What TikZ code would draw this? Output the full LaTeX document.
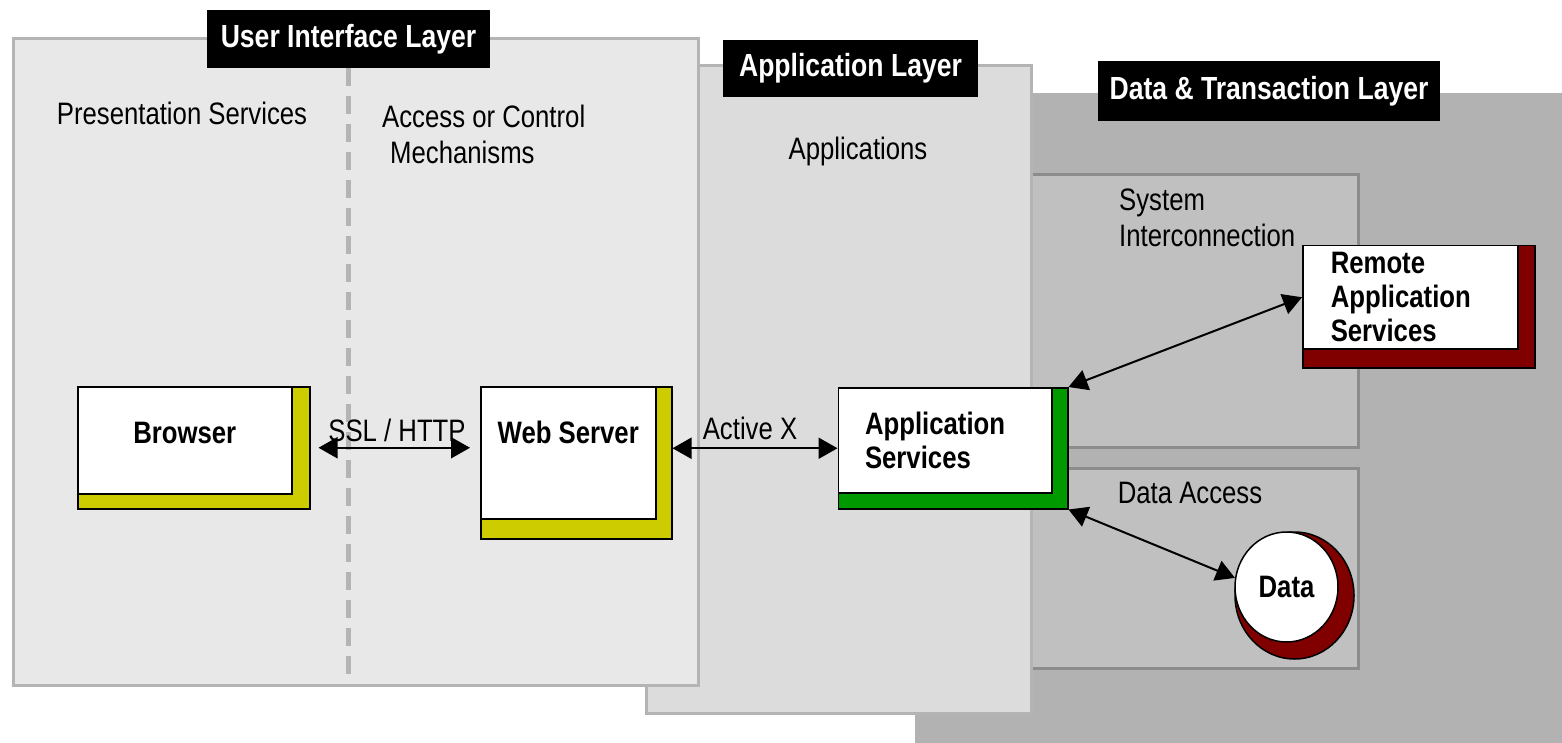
\documentclass[tikz,border=0pt]{standalone}
\usepackage{fontspec}
\setmainfont[FakeStretch=0.83]{Liberation Sans}
\usepackage{tikz}
\usetikzlibrary{shapes.geometric, arrows.meta, positioning, calc}
\definecolor{uigray}{HTML}{E8E8E8}
\definecolor{appgray}{HTML}{DCDCDC}
\definecolor{datagray}{HTML}{B2B2B2}
\definecolor{subgray}{HTML}{C0C0C0}
\definecolor{edgegray}{HTML}{B4B4B4}
\definecolor{darkedge}{HTML}{8C8C8C}
\definecolor{webyellow}{HTML}{CCCC00}
\definecolor{appgreen}{HTML}{009900}
\definecolor{remotered}{HTML}{800000}

\begin{document}
\begin{tikzpicture}[
    x=1pt, y=-1pt,
    panel/.style={rectangle, draw=edgegray, line width=3pt, anchor=north west, inner sep=0pt},
    subpanel/.style={rectangle, draw=darkedge, fill=subgray, line width=3pt, anchor=north west, inner sep=0pt},
    layertag/.style={rectangle, fill=black, text=white, inner sep=0pt, font=\fontsize{32pt}{36pt}\selectfont\bfseries},
    caption/.style={inner sep=0pt, align=left, font=\fontsize{31pt}{36pt}\selectfont},
    backbox/.style={rectangle, draw=black, line width=1.5pt, anchor=north west, inner sep=0pt},
    frontbox/.style={rectangle, draw=black, fill=white, line width=1.5pt, anchor=north west, inner sep=0pt, font=\fontsize{31pt}{34pt}\selectfont\bfseries},
    link/.style={<->, >={Triangle[length=19pt, width=21pt]}, line width=2pt}
]
\useasboundingbox (0,0) rectangle (1562,743);

% Layer panels
\node[panel, fill=datagray, draw=none, minimum width=649pt, minimum height=651pt] (datalayer) at (913,92) {};
\node[subpanel, minimum width=327pt, minimum height=273pt] (sysbox) at (1030,173) {};
\node[subpanel, minimum width=327pt, minimum height=200pt] (accessbox) at (1030,467) {};
\node[panel, fill=appgray, minimum width=385pt, minimum height=648pt] (applayer) at (645,64) {};
\node[panel, fill=uigray, minimum width=685pt, minimum height=647pt] (uilayer) at (12,37) {};

% Layer titles
\node[layertag, minimum width=283pt, minimum height=58pt] (uitag) at (348.5,39) {User Interface Layer};
\node[layertag, minimum width=255pt, minimum height=57pt] (apptag) at (850.5,68.5) {Application Layer};
\node[layertag, minimum width=342pt, minimum height=60pt] (datatag) at (1269,91) {Data \& Transaction Layer};

\draw[edgegray, line width=4.5pt, dash pattern=on 18pt off 10pt] (uitag.south) -- (uitag.south |- uilayer.south);

% Captions
\node[caption] (presentation) at (182,113) {Presentation Services};
\node[caption, anchor=west] (access) at (382,134) {Access or Control\\\hspace*{8pt}Mechanisms};
\node[caption] (applications) at (858,151) {Applications};
\node[caption, anchor=west] (interconnect) at (1119,218) {System\\Interconnection};
\node[caption] (dataaccess) at (1190,493) {Data Access};

% Components
\node[backbox, fill=webyellow, minimum width=232pt, minimum height=122pt] (browsersh) at (77,386) {};
\node[frontbox, minimum width=214pt, minimum height=107pt, text depth=15pt] (browser) at (77,386) {Browser};

\node[backbox, fill=webyellow, minimum width=191pt, minimum height=152pt] (websh) at (480,386) {};
\node[frontbox, minimum width=175pt, minimum height=132pt, text depth=40pt] (web) at (480,386) {Web Server};

\node[backbox, fill=appgreen, minimum width=229.5pt, minimum height=121pt] (appsh) at (837.5,387) {};
\node[frontbox, minimum width=213.5pt, minimum height=105pt, text width=160pt, inner xsep=26.5pt, align=left] (app) at (837.5,387) {Application\\Services};

\node[backbox, fill=remotered, minimum width=232pt, minimum height=122pt] (remotesh) at (1302,245) {};
\node[frontbox, minimum width=215pt, minimum height=103pt, text width=159pt, inner xsep=28pt, align=left] (remote) at (1302,245) {Remote\\Application\\Services};

\node[ellipse, draw=black, line width=1.5pt, fill=remotered, minimum width=119pt, minimum height=127pt, inner sep=0pt] (datash) at (1294.5,595.5) {};
\node[ellipse, draw=black, line width=1.5pt, fill=white, minimum width=103pt, minimum height=110pt, inner sep=0pt, font=\fontsize{31pt}{34pt}\selectfont\bfseries] (data) at (1286.5,587) {Data};

% Connections
\draw[link, shorten <=8pt, shorten >=10pt] (browsersh.east) -- (browsersh.east -| websh.west);
\node[caption] (ssl) at (397,430) {SSL / HTTP};
\draw[link] (websh.east |- appsh.west) -- (appsh.west);
\node[caption] (activex) at (750,428) {Active X};
\draw[link] (appsh.north east) -- (remote.west);
\draw[link] (appsh.south east) -- (data.170);
\end{tikzpicture}
\end{document}
